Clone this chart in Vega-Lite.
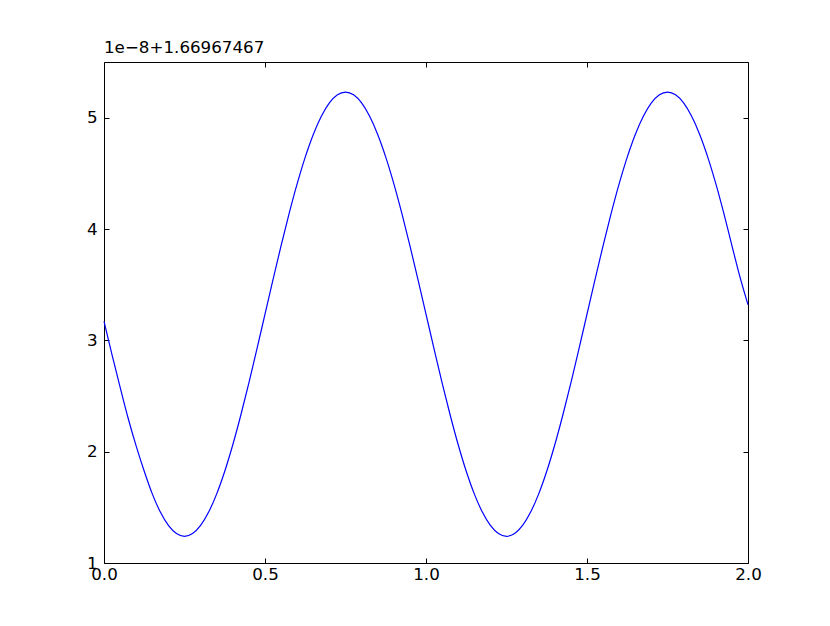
{
  "$schema": "https://vega.github.io/schema/vega-lite/v6.json",
  "autosize": "none",
  "width": 644,
  "height": 501,
  "padding": {"left": 104, "top": 62, "right": 82, "bottom": 63},
  "background": "white",
  "config": {
    "view": {"stroke": "#000000", "strokeWidth": 1},
    "axis": {"font": "DejaVu Sans", "labelFont": "DejaVu Sans", "labelFontSize": 16.7, "labelColor": "#000000", "tickColor": "#000000", "domain": false, "grid": false, "tickSize": -5, "ticks": true}
  },
  "title": {"text": "1e−8+1.66967467", "anchor": "start", "frame": "group", "offset": 5, "fontSize": 16.7, "fontWeight": "normal", "font": "DejaVu Sans", "color": "#000000"},
  "data": {"values": [
    {"x": 0.0, "y": 3.17}, {"x": 0.025, "y": 2.87}, {"x": 0.05, "y": 2.58}, {"x": 0.075, "y": 2.3}, {"x": 0.1, "y": 2.05}, {"x": 0.125, "y": 1.8243}, {"x": 0.15, "y": 1.621}, {"x": 0.175, "y": 1.4575}, {"x": 0.2, "y": 1.3376}, {"x": 0.225, "y": 1.2645}, {"x": 0.25, "y": 1.24},
    {"x": 0.275, "y": 1.2645}, {"x": 0.3, "y": 1.3376}, {"x": 0.325, "y": 1.4575}, {"x": 0.35, "y": 1.621}, {"x": 0.375, "y": 1.8243}, {"x": 0.4, "y": 2.0623}, {"x": 0.425, "y": 2.3293}, {"x": 0.45, "y": 2.6185}, {"x": 0.475, "y": 2.923}, {"x": 0.5, "y": 3.235},
    {"x": 0.525, "y": 3.547}, {"x": 0.55, "y": 3.8515}, {"x": 0.575, "y": 4.1407}, {"x": 0.6, "y": 4.4077}, {"x": 0.625, "y": 4.6457}, {"x": 0.65, "y": 4.849}, {"x": 0.675, "y": 5.0125}, {"x": 0.7, "y": 5.1326}, {"x": 0.725, "y": 5.2055}, {"x": 0.75, "y": 5.23},
    {"x": 0.775, "y": 5.2055}, {"x": 0.8, "y": 5.1326}, {"x": 0.825, "y": 5.0125}, {"x": 0.85, "y": 4.849}, {"x": 0.875, "y": 4.6457}, {"x": 0.9, "y": 4.4077}, {"x": 0.925, "y": 4.1407}, {"x": 0.95, "y": 3.8515}, {"x": 0.975, "y": 3.547}, {"x": 1.0, "y": 3.235},
    {"x": 1.025, "y": 2.923}, {"x": 1.05, "y": 2.6185}, {"x": 1.075, "y": 2.3293}, {"x": 1.1, "y": 2.0623}, {"x": 1.125, "y": 1.8243}, {"x": 1.15, "y": 1.621}, {"x": 1.175, "y": 1.4575}, {"x": 1.2, "y": 1.3376}, {"x": 1.225, "y": 1.2645}, {"x": 1.25, "y": 1.24},
    {"x": 1.275, "y": 1.2645}, {"x": 1.3, "y": 1.3376}, {"x": 1.325, "y": 1.4575}, {"x": 1.35, "y": 1.621}, {"x": 1.375, "y": 1.8243}, {"x": 1.4, "y": 2.0623}, {"x": 1.425, "y": 2.3293}, {"x": 1.45, "y": 2.6185}, {"x": 1.475, "y": 2.923}, {"x": 1.5, "y": 3.235},
    {"x": 1.525, "y": 3.547}, {"x": 1.55, "y": 3.8515}, {"x": 1.575, "y": 4.1407}, {"x": 1.6, "y": 4.4077}, {"x": 1.625, "y": 4.6457}, {"x": 1.65, "y": 4.849}, {"x": 1.675, "y": 5.0125}, {"x": 1.7, "y": 5.1326}, {"x": 1.725, "y": 5.2055}, {"x": 1.75, "y": 5.23},
    {"x": 1.775, "y": 5.2055}, {"x": 1.8, "y": 5.1326}, {"x": 1.825, "y": 5.0125}, {"x": 1.85, "y": 4.849}, {"x": 1.875, "y": 4.6457}, {"x": 1.9, "y": 4.4077}, {"x": 1.925, "y": 4.1407}, {"x": 1.95, "y": 3.8515}, {"x": 1.975, "y": 3.57}, {"x": 2.0, "y": 3.32}
  ]},
  "layer": [
    {
      "mark": {"type": "line", "color": "#0000ff", "strokeWidth": 1.2, "interpolate": "monotone"},
      "encoding": {
        "x": {"field": "x", "type": "quantitative", "scale": {"domain": [0, 2], "nice": false, "zero": false},
          "axis": {"title": null, "orient": "bottom", "values": [0, 0.5, 1, 1.5, 2], "format": ".1f", "labelPadding": 8, "labelFlush": false}},
        "y": {"field": "y", "type": "quantitative", "scale": {"domain": [1, 5.5], "nice": false, "zero": false},
          "axis": {"title": null, "orient": "left", "values": [1, 2, 3, 4, 5], "format": "d", "labelPadding": 12, "labelBaseline": "middle"}}
      }
    },
    {
      "mark": {"type": "line", "opacity": 0},
      "encoding": {
        "x": {"field": "x", "type": "quantitative", "axis": {"title": null, "orient": "top", "values": [0, 0.5, 1, 1.5, 2], "labels": false}},
        "y": {"field": "y", "type": "quantitative", "axis": {"title": null, "orient": "right", "values": [1, 2, 3, 4, 5], "labels": false}}
      }
    }
  ],
  "resolve": {"axis": {"x": "independent", "y": "independent"}}
}
